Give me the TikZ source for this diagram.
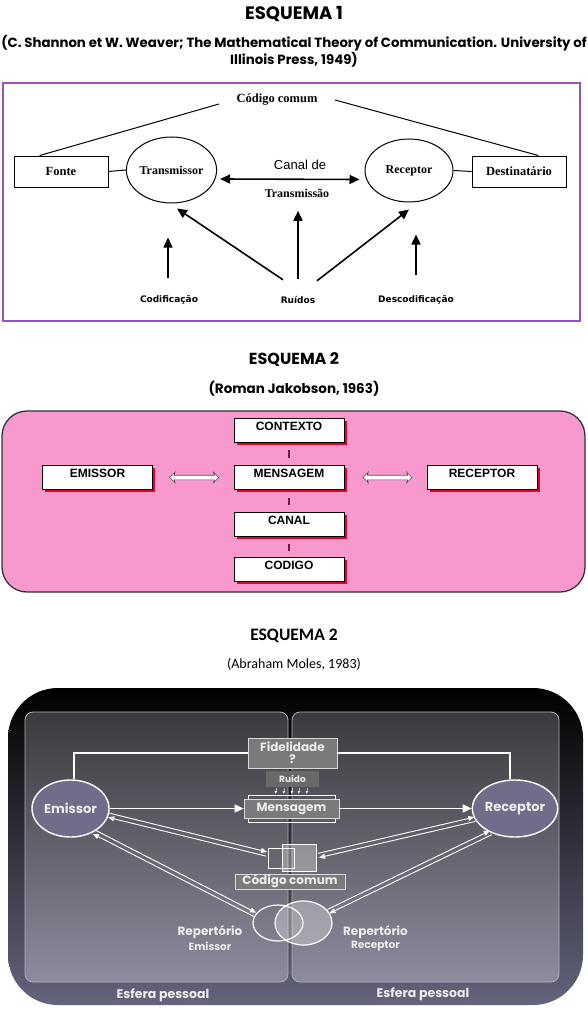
\documentclass[tikz,border=0pt]{standalone}
\usepackage{fontspec}
\setmainfont{Liberation Serif}
\newfontfamily\gothic{Poppins}
\newfontfamily\arialf{Liberation Sans}
\newfontfamily\dejav{DejaVu Sans}
\newfontfamily\calib{Carlito}
\usetikzlibrary{arrows.meta,calc,shapes.geometric,shapes.arrows,shadows}
\definecolor{purpleB}{RGB}{150,80,200}
\definecolor{pinkF}{RGB}{247,153,204}
\definecolor{shadowred}{RGB}{228,0,40}
\definecolor{markc}{RGB}{120,20,60}
\definecolor{outerB}{RGB}{100,100,125}
\definecolor{panT}{RGB}{58,58,62}
\definecolor{panB}{RGB}{140,140,158}
\definecolor{panD}{RGB}{175,175,185}
\definecolor{mellf}{RGB}{112,108,138}
\definecolor{gboxf}{RGB}{122,122,122}
\definecolor{ruif}{RGB}{105,105,105}
\definecolor{mwhite}{RGB}{236,236,236}
\newcommand\pairarr[2]{%
  \draw[warr2] ($(#1)!2.2pt!90:(#2)$) -- ($(#2)!2.2pt!-90:(#1)$);
  \draw[warr2] ($(#2)!2.2pt!90:(#1)$) -- ($(#1)!2.2pt!-90:(#2)$);}
\begin{document}
\begin{tikzpicture}[x=1pt,y=-1pt,
  s1box/.style={draw, line width=0.9pt, minimum width=94pt, minimum height=31pt, inner sep=0pt, font=\bfseries\fontsize{12.5}{14}\selectfont},
  s1ell/.style={draw, ellipse, line width=1pt, inner sep=0pt, font=\bfseries\fontsize{12}{14}\selectfont},
  s1arr/.style={line width=1.6pt, -{Triangle[length=10pt,width=9pt]}},
  s1lab/.style={font=\dejav\bfseries\fontsize{9}{11}\selectfont},
  jbox/.style={draw=black, line width=0.8pt, fill=white, minimum width=110pt, inner xsep=0pt, inner ysep=3.5pt, text height=8.8pt, text depth=8.2pt, font=\arialf\bfseries\fontsize{12}{13}\selectfont, drop shadow={shadow xshift=2.5pt, shadow yshift=-2.5pt, fill=shadowred, opacity=1}},
  jmark/.style={draw=markc, line width=1.3pt},
  jdarr/.style={double arrow, draw=black!70, fill=white, line width=0.6pt, minimum height=49pt, double arrow head extend=3pt, inner xsep=0pt, inner ysep=2pt, text height=0pt, text depth=0pt, double arrow head indent=1pt},
  mtxt/.style={text=mwhite, font=\gothic\bfseries\fontsize{12}{13}\selectfont},
  mell/.style={ellipse, draw=white, line width=1.4pt, fill=mellf, inner sep=0pt, mtxt},
  gbox/.style={draw=white!85!black, line width=0.7pt, fill=gboxf, inner sep=0pt, mtxt},
  wline/.style={draw=white, line width=1.5pt},
  warr/.style={draw=white, fill=white, line width=1.6pt, -{Triangle[length=9pt,width=8pt]}},
  warr2/.style={draw=white, fill=white, line width=0.9pt, -{Triangle[length=6pt,width=5pt]}},
]
\useasboundingbox (0,0) rectangle (588,1024);
\fill[white] (0,0) rectangle (588,1024);

% ---------------- Titles ----------------
\node[font=\gothic\bfseries\fontsize{18}{20}\selectfont] (t1) at (294,14) {ESQUEMA 1};
\node[font=\gothic\bfseries\fontsize{13.3}{15}\selectfont] (t1a) at (294,43) {(C. Shannon et W. Weaver; The Mathematical Theory of Communication. University of};
\node[font=\gothic\bfseries\fontsize{13.3}{15}\selectfont] (t1b) at (294,60) {Illinois Press, 1949)};

% ---------------- Schema 1 ----------------
\draw[draw=purpleB, line width=2pt] (2.5,83) rectangle (580,320.5);
\node[font=\bfseries\fontsize{12.5}{14}\selectfont] (cc) at (277,100) {Código comum};
\node[s1box] (fonte) at (61,171.5) {Fonte};
\node[s1ell, minimum width=89pt, minimum height=66pt] (tx) at (171.5,170) {Transmissor};
\node[s1ell, minimum width=88pt, minimum height=63pt] (rx) at (409,170.5) {Receptor};
\node[s1box] (dest) at (519,171.5) {Destinatário};
\draw[line width=1pt] ($(cc.west)+(-14,4)$) -- ($(fonte.north west)+(26,0)$);
\draw[line width=1pt] ($(cc.east)+(14,0)$) -- ($(dest.north east)+(-28,0)$);
\draw[line width=1pt] (fonte.east) -- (tx.west);
\draw[line width=1pt] (rx.east) -- (dest.west);
\node[font=\arialf\fontsize{13}{15}\selectfont] (canal) at (300,165) {Canal de};
\node[font=\bfseries\fontsize{12}{14}\selectfont] (trm) at (297,193) {Transmissão};
\draw[line width=1.6pt, {Triangle[length=10pt,width=9pt]}-{Triangle[length=10pt,width=9pt]}] ($(tx.east)+(3,9)$) -- ($(rx.west)+(-5,9)$);
\node[s1lab] (cod) at (169,300) {Codificação};
\node[s1lab] (rui) at (298,300) {Ruídos};
\node[s1lab] (desc) at (416,300) {Descodificação};
\draw[s1arr] ($(cod.north)+(-1,-14)$) -- ($(tx.south)+(-3.5,34)$);
\draw[s1arr] ($(rui.north)+(-15,-13)$) -- ($(tx.south)+(5.5,5)$);
\draw[s1arr] ($(rui.north)+(0,-14)$) -- ($(trm.south)+(1,10)$);
\draw[s1arr] ($(rui.north)+(19,-12)$) -- ($(rx.south)+(0,7)$);
\draw[s1arr] ($(desc.north)+(0,-17)$) -- ($(rx.south)+(7,32)$);

% ---------------- Schema 2 (Jakobson) ----------------
\node[font=\gothic\bfseries\fontsize{16}{18}\selectfont] (t2) at (294,359) {ESQUEMA 2};
\node[font=\gothic\bfseries\fontsize{13.5}{15}\selectfont] (t2a) at (294,389) {(Roman Jakobson, 1963)};
\draw[draw=black!80, line width=1.3pt, fill=pinkF, rounded corners=25pt] (2,411) rectangle (585,592);
\node[jbox] (ctx) at (289,430) {CONTEXTO};
\node[jbox] (msg) at (289,477.5) {MENSAGEM};
\node[jbox] (can) at (289,524.5) {CANAL};
\node[jbox] (cdg) at (289,569.5) {CODIGO};
\node[jbox] (emi) at (97.5,477.5) {EMISSOR};
\node[jbox] (rcp) at (482,477.5) {RECEPTOR};
\draw[jmark] ($(ctx.south)!0.35!(msg.north)$) -- ($(ctx.south)!0.7!(msg.north)$);
\draw[jmark] ($(msg.south)!0.35!(can.north)$) -- ($(msg.south)!0.7!(can.north)$);
\draw[jmark] ($(can.south)!0.35!(cdg.north)$) -- ($(can.south)!0.7!(cdg.north)$);
\node[jdarr] (da1) at ($(emi.east)!0.5!(msg.west)+(1,0)$) {};
\node[jdarr] (da2) at ($(msg.east)!0.5!(rcp.west)+(2,0)$) {};

% ---------------- Schema 3 (Moles) ----------------
\node[font=\calib\bfseries\fontsize{17.5}{20}\selectfont] (t3) at (294,636) {ESQUEMA 2};
\node[font=\calib\fontsize{14}{16}\selectfont] (t3a) at (294,664) {(Abraham Moles, 1983)};
\shade[top color=black, bottom color=outerB, rounded corners=50pt] (8,688) rectangle (583,1005);
\shadedraw[top color=panT, bottom color=panB, draw=panD, line width=0.8pt, rounded corners=8pt] (25,712) rectangle (288,982);
\shadedraw[top color=panT, bottom color=panB, draw=panD, line width=0.8pt, rounded corners=8pt] (292,712) rectangle (559,982);

\node[mell, minimum width=77pt, minimum height=57pt, font=\gothic\bfseries\fontsize{13}{14}\selectfont] (em) at (70.5,808.5) {Emissor};
\node[mell, minimum width=76pt, minimum height=57pt, font=\gothic\bfseries\fontsize{13}{14}\selectfont] (rc) at (515,808.5) {Receptor};
\node[gbox, align=center, minimum width=89pt, minimum height=30pt, font=\gothic\bfseries\fontsize{12}{12}\selectfont] (fid) at (292.5,753) {Fidelidade\\?};
\node[gbox, draw=none, fill=ruif, minimum width=53pt, minimum height=16pt, font=\gothic\bfseries\fontsize{9}{10}\selectfont] (rui3) at (292.5,779) {Ruído};
\node[draw=white, line width=1pt, minimum width=87pt, minimum height=27pt, inner sep=0pt] (msgb) at (291.5,808.5) {};
\node[gbox, minimum width=95pt, minimum height=19pt] (msg3) at (291.5,808.5) {Mensagem};
\foreach \dx in {-16,-8,0,7,15}
  \draw[white, fill=white, line width=0.5pt, -{Triangle[length=2.5pt,width=2.5pt]}] ($(rui3.south)+(\dx,1)$) -- ($(msgb.north)+(\dx,-1)$);
\draw[wline] ($(em.north)+(3.5,0)$) |- (fid.west);
\draw[wline] (fid.east) -| ($(rc.north)+(-5,0)$);
\draw[warr] (em.east) -- (msg3.west);
\draw[warr] (msg3.east) -- (rc.west);

\node[draw=white, fill=white, fill opacity=0.3, line width=1pt, minimum width=34pt, minimum height=27pt, inner sep=0pt] (cb2) at (299,857.5) {};
\node[draw=white, line width=1pt, minimum width=26pt, minimum height=20pt, inner sep=0pt] (cb1) at (281,858) {};
\node[gbox, minimum width=110pt, minimum height=15pt] (cc3) at (290,881.5) {Código comum};
\node[ellipse, draw=white, fill=white, fill opacity=0.3, line width=1.2pt, minimum width=57pt, minimum height=44pt, inner sep=0pt] (re2) at (303.5,923) {};
\node[ellipse, draw=white, line width=1.2pt, minimum width=50pt, minimum height=36pt, inner sep=0pt] (re1) at (278,923) {};
\node[mtxt, font=\gothic\bfseries\fontsize{12}{13}\selectfont] (rep1a) at (210,932) {Repertório};
\node[mtxt, font=\gothic\bfseries\fontsize{10.5}{12}\selectfont] (rep1b) at (210,946) {Emissor};
\node[mtxt, font=\gothic\bfseries\fontsize{12}{13}\selectfont] (rep2a) at (375.5,932) {Repertório};
\node[mtxt, font=\gothic\bfseries\fontsize{10.5}{12}\selectfont] (rep2b) at (375.5,946) {Receptor};
\node[mtxt, font=\gothic\bfseries\fontsize{12.5}{13}\selectfont] (esf1) at (163,995) {Esfera pessoal};
\node[mtxt, font=\gothic\bfseries\fontsize{12.5}{13}\selectfont] (esf2) at (423,994) {Esfera pessoal};

\coordinate (p1) at (em.-10);
\coordinate (q1) at ($(cb1.west)+(-1,-4)$);
\coordinate (p2) at (em.-45);
\coordinate (q2) at (re1.160);
\coordinate (p3) at (rc.195);
\coordinate (q3) at ($(cb2.east)+(2,-2)$);
\coordinate (p4) at (rc.225);
\coordinate (q4) at (re2.25);
\pairarr{p1}{q1}
\pairarr{p2}{q2}
\pairarr{p3}{q3}
\pairarr{p4}{q4}
\end{tikzpicture}
\end{document}
